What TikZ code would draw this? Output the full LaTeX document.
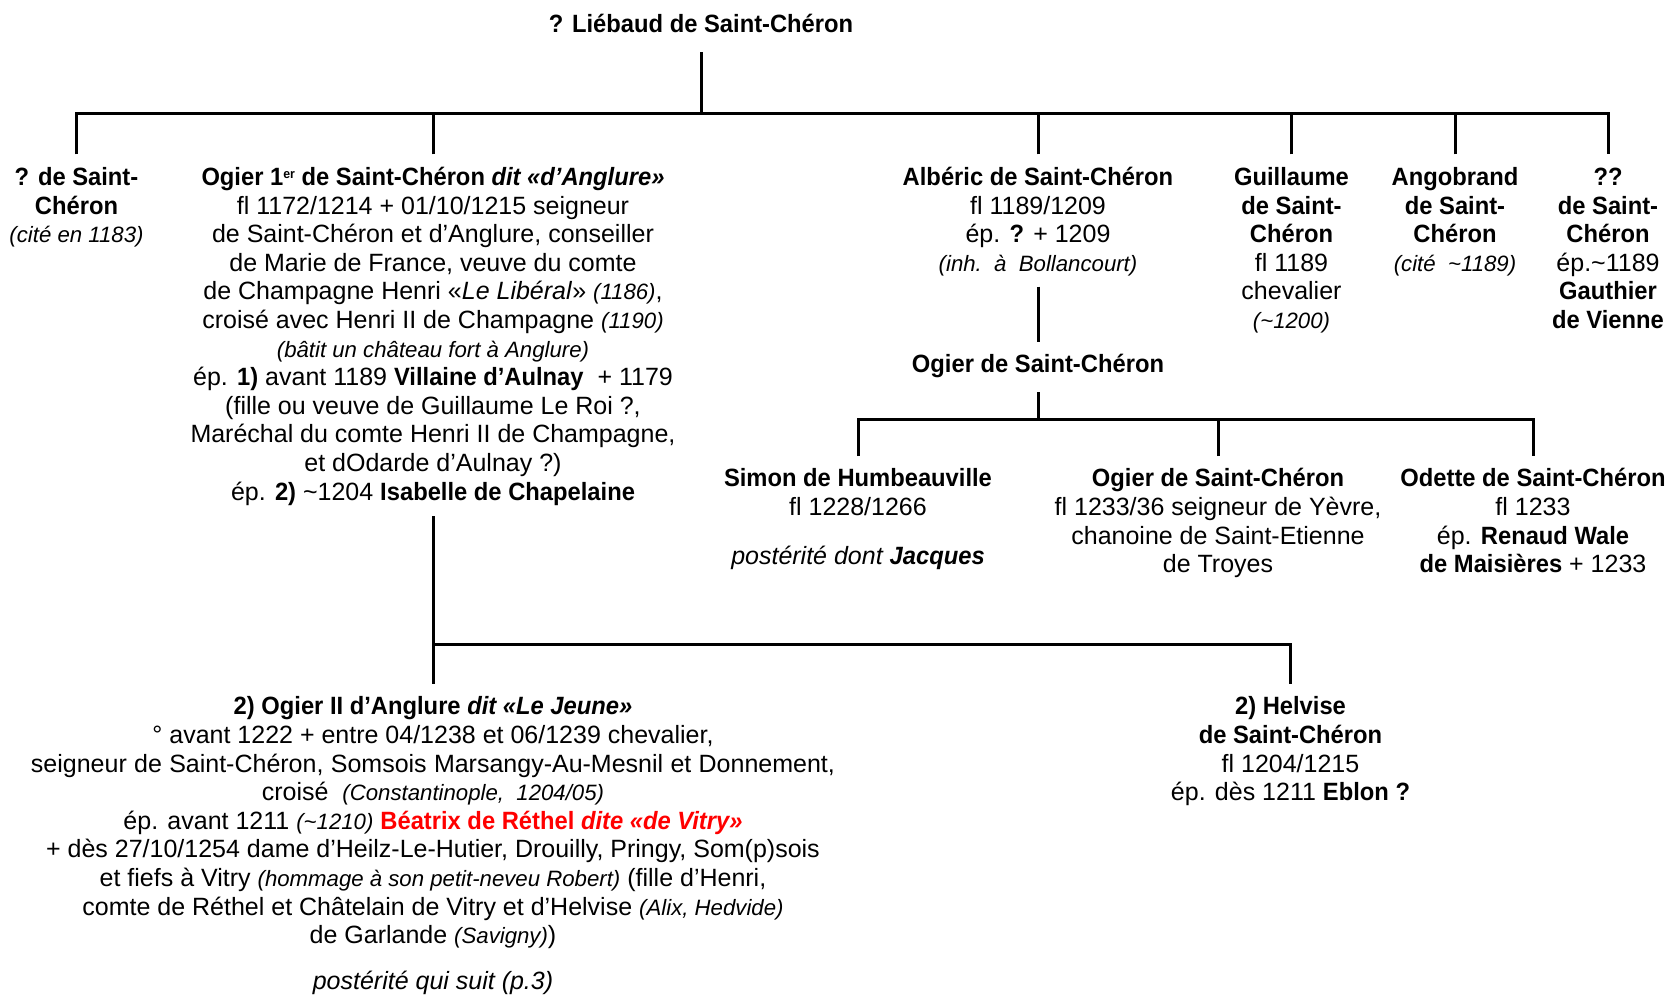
\documentclass[tikz,border=0pt]{standalone}
\usepackage{fontspec}
\setmainfont{Liberation Sans}[BoldFeatures={FakeStretch=0.95},BoldItalicFeatures={FakeStretch=0.95}]
\usetikzlibrary{calc}
\newcommand\sm[1]{{\fontsize{11.1}{14.3}\selectfont\itshape #1}}
\newcommand\tl{\textasciitilde}
\newcommand\supr[1]{\raisebox{3.6pt}{\fontsize{6.5}{7}\selectfont #1}}
\begin{document}
\begin{tikzpicture}[x=0.5pt,y=-0.5pt,
  person/.style={anchor=north,align=center,inner xsep=0pt,inner ysep=5.25pt,
    font=\fontsize{12.5}{14.3}\selectfont},
  tree/.style={line width=1.5pt}]
\useasboundingbox (0,0) rectangle (1671,995);
% top generation
\node[person] (root) at (701,2) {\strut\textbf{? Liébaud de Saint-Chéron}};
\node[person] (c1) at (76.5,154.5) {\strut\textbf{? de Saint-}\\\textbf{Chéron}\\\sm{(cité en 1183)}};
\node[person] (c2) at (433,154.5) {\strut\textbf{Ogier 1\supr{er} de Saint-Chéron \textit{dit «d’Anglure»}}\\
  fl 1172/1214 + 01/10/1215 seigneur\\
  de Saint-Chéron et d’Anglure, conseiller\\
  de Marie de France, veuve du comte\\
  de Champagne Henri «\textit{Le Libéral}» \sm{(1186)},\\
  croisé avec Henri II de Champagne \sm{(1190)}\\
  \sm{(bâtit un château fort à Anglure)}\\
  ép. \textbf{1)} avant 1189 \textbf{Villaine d’Aulnay} \ + 1179\\
  (fille ou veuve de Guillaume Le Roi ?,\\
  Maréchal du comte Henri II de Champagne,\\
  et dOdarde d’Aulnay ?)\\
  ép. \textbf{2)} \tl1204 \textbf{Isabelle de Chapelaine}};
\node[person] (alb) at (1038,154.5) {\strut\textbf{Albéric de Saint-Chéron}\\fl 1189/1209\\ép. \textbf{?} + 1209\\\sm{(inh.\ \ à \ Bollancourt)}};
\node[person] (gui) at (1291.5,154.5) {\strut\textbf{Guillaume}\\\textbf{de Saint-}\\\textbf{Chéron}\\fl 1189\\chevalier\\\sm{(\tl1200)}};
\node[person] (ang) at (1455,154.5) {\strut\textbf{Angobrand}\\\textbf{de Saint-}\\\textbf{Chéron}\\\sm{(cité \ \tl1189)}};
\node[person] (qq) at (1608,154.5) {\strut\textbf{??}\\\textbf{de Saint-}\\\textbf{Chéron}\\ép.\tl1189\\\textbf{Gauthier}\\\textbf{de Vienne}};
% Albéric's line
\node[person] (mog) at (1038,342) {\strut\textbf{Ogier de Saint-Chéron}};
\node[person] (sim) at (858,456) {\strut\textbf{Simon de Humbeauville}\\fl 1228/1266\\[10.2pt]\textit{postérité dont \textbf{Jacques}}};
\node[person] (ogl) at (1218,456) {\strut\textbf{Ogier de Saint-Chéron}\\fl 1233/36 seigneur de Yèvre,\\chanoine de Saint-Etienne\\de Troyes};
\node[person] (ode) at (1533,456) {\strut\textbf{Odette de Saint-Chéron}\\fl 1233\\ép. \textbf{Renaud Wale}\\\textbf{de Maisières} + 1233};
% Ogier 1er's children
\node[person] (og2) at (433,684) {\strut\textbf{2) Ogier II d’Anglure \textit{dit «Le Jeune»}}\\
  ° avant 1222 + entre 04/1238 et 06/1239 chevalier,\\
  \makebox[402pt][s]{seigneur de Saint-Chéron, Somsois Marsangy-Au-Mesnil et Donnement,}\\
  croisé \ \sm{(Constantinople, \ 1204/05)}\\
  ép. avant 1211 \sm{(\tl1210)} \textcolor{red}{\textbf{Béatrix de Réthel \textit{dite «de Vitry»}}}\\
  + dès 27/10/1254 dame d’Heilz-Le-Hutier, Drouilly, Pringy, Som(p)sois\\
  et fiefs à Vitry \sm{(hommage à son petit-neveu Robert)} (fille d’Henri,\\
  comte de Réthel et Châtelain de Vitry et d’Helvise \sm{(Alix, Hedvide)}\\
  de Garlande \sm{(Savigny)})\\[8.6pt]
  \textit{postérité qui suit (p.3)}};
\node[person] (hel) at (1290.5,684) {\strut\textbf{2) Helvise}\\\textbf{de Saint-Chéron}\\fl 1204/1215\\ép. dès 1211 \textbf{Eblon ?}};
% connectors
\coordinate (bar1) at (701,114);
\coordinate (bar2) at (1038,419);
\coordinate (bar3) at (433,644.5);
\draw[tree] (root.south) -- (bar1);
\draw[tree] (c1.north) |- (qq.north |- bar1) -- (qq.north);
\foreach \n in {c2,alb,gui,ang} \draw[tree] (\n.north) -- (\n.north |- bar1);
\draw[tree] (alb.south) -- (mog.north);
\draw[tree] (mog.south) -- (bar2);
\draw[tree] (sim.north) |- (ode.north |- bar2) -- (ode.north);
\draw[tree] (ogl.north) -- (ogl.north |- bar2);
\draw[tree] (c2.south) -- (og2.north);
\draw[tree] (bar3) -| (hel.north);
\end{tikzpicture}
\end{document}
